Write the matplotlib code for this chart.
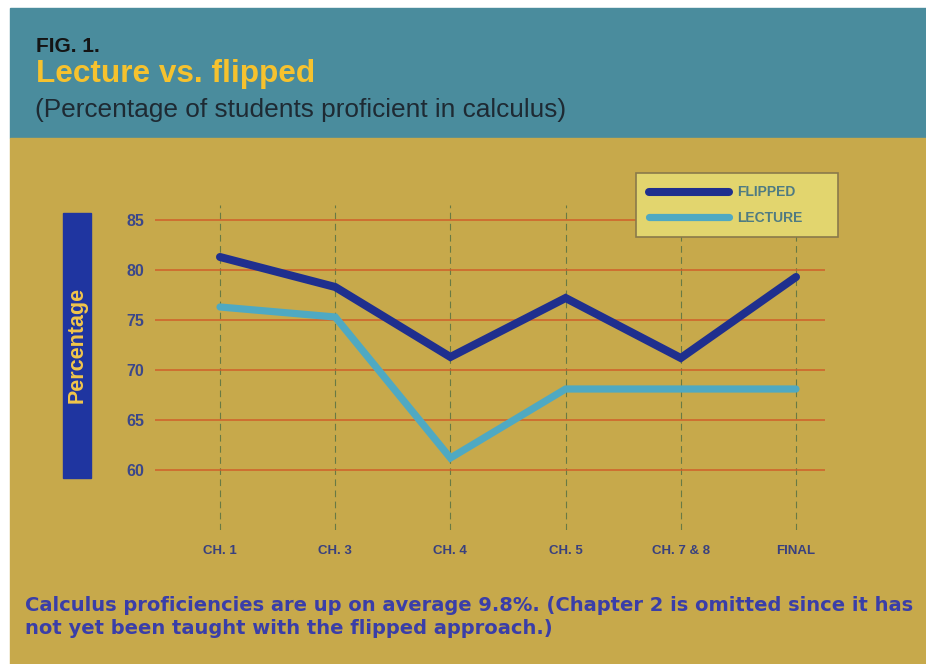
import matplotlib
matplotlib.use("Agg")
import matplotlib.pyplot as plt
from matplotlib.patches import Rectangle
from matplotlib.lines import Line2D

chapters = ["CH. 1", "CH. 3", "CH. 4", "CH. 5", "CH. 7 & 8", "FINAL"]
flipped = [81.3, 78.3, 71.3, 77.2, 71.2, 79.3]
lecture = [76.3, 75.3, 61.2, 68.1, 68.1, 68.1]
yticks = [60, 65, 70, 75, 80, 85]

W, H = 926, 664
plt.rcParams['font.family'] = ['Liberation Sans', 'DejaVu Sans']

fig = plt.figure(figsize=(W / 100, H / 100), dpi=100, facecolor='white')

def fx(x):
    return x / W

def fy(y):
    return 1 - y / H

# background bands
fig.patches.append(Rectangle((fx(10), fy(138)), fx(W - 10), 130 / H,
                             transform=fig.transFigure, color='#4a8c9d', zorder=-2))
fig.patches.append(Rectangle((fx(10), 0), fx(W - 10), fy(138),
                             transform=fig.transFigure, color='#c7a94b', zorder=-2))

# header text
fig.text(fx(36), fy(52), "FIG. 1.", fontsize=15, fontweight='bold', color='#141414')
fig.text(fx(36), fy(82), "Lecture vs. flipped", fontsize=22.7, fontweight='bold', color='#f6c22e')
fig.text(fx(35), fy(117), "(Percentage of students proficient in calculus)", fontsize=18.9,
         color='#1e2a33')

# plot area
ax = fig.add_axes([fx(155), fy(530), fx(825) - fx(155), 325 / H])
ax.set_zorder(2)
ax.set_facecolor('none')
x = list(range(len(chapters)))
ax.plot(x, lecture, color='#4fa9c2', lw=5.2, solid_capstyle='round', solid_joinstyle='miter', zorder=3)
ax.plot(x, flipped, color='#1f2f8e', lw=5.8, solid_capstyle='round', solid_joinstyle='miter', zorder=4)

ax.set_xlim(-65 / 115.2, 5 + 29 / 115.2)
ax.set_ylim(54, 86.5)
ax.set_xticks(x)
ax.set_xticklabels(chapters)
ax.set_yticks(yticks)
for s in ax.spines.values():
    s.set_visible(False)
ax.tick_params(length=0)
ax.tick_params(axis='x', pad=11, labelsize=9.5, labelcolor='#39407e')
ax.tick_params(axis='y', pad=8, labelsize=11.5, labelcolor='#3b478a')
for lab in ax.get_xticklabels() + ax.get_yticklabels():
    lab.set_fontweight('bold')
ax.yaxis.grid(True, color='#cf5f2a', lw=1.1)
ax.xaxis.grid(True, color='#687a44', lw=0.8, ls=(0, (6, 4)))
ax.set_axisbelow(True)

# y label bar
fig.patches.append(Rectangle((fx(63), fy(478)), 28 / W, 265 / H,
                             transform=fig.transFigure, color='#1f35a0', zorder=1))
fig.text(fx(77), fy(345), "Percentage", rotation=90, ha='center', va='center',
         fontsize=15.5, fontweight='bold', color='#f2c64a', zorder=2)

# legend
handles = [Line2D([], [], color='#1f2f8e', lw=5.8, solid_capstyle='round'),
           Line2D([], [], color='#4fa9c2', lw=5.2, solid_capstyle='round')]
leg = fig.legend(handles, ["FLIPPED", "LECTURE"], loc='upper left', mode='expand',
                 bbox_to_anchor=(fx(636), fy(238), 202 / W, 65 / H),
                 bbox_transform=fig.transFigure, borderaxespad=0,
                 fancybox=False, framealpha=1, facecolor='#e2d56e', edgecolor='#8a7a4a',
                 handlelength=5.8, handletextpad=0.6, labelspacing=0.8,
                 borderpad=0.9, prop={'size': 10, 'weight': 'bold'})
leg.set_zorder(5)
for t in leg.get_texts():
    t.set_color('#4f7b82')
leg.get_frame().set_linewidth(1.2)

# caption
cap = dict(fontsize=14.05, fontweight='bold', color='#3a3ea8', family=['DejaVu Sans'])
fig.text(fx(25), fy(611), "Calculus proficiencies are up on average 9.8%. (Chapter 2 is omitted since it has", **cap)
fig.text(fx(25), fy(634), "not yet been taught with the flipped approach.)", **cap)

fig.savefig("out.png", dpi=100, facecolor=fig.get_facecolor())
